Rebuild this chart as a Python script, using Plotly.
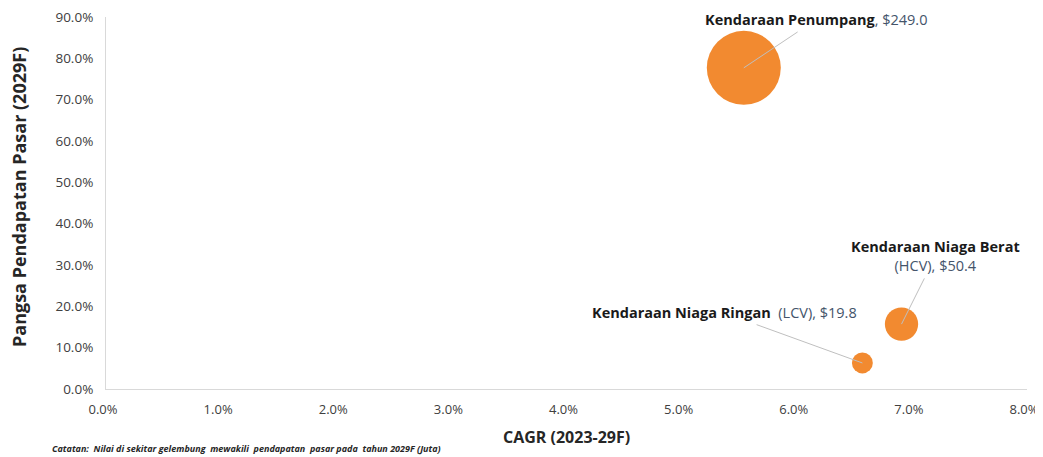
import plotly.graph_objects as go

segments = ["Kendaraan Penumpang", "Kendaraan Niaga Berat", "Kendaraan Niaga Ringan"]
codes = ["", "(HCV)", "(LCV)"]
cagr = [0.0554, 0.0691, 0.0657]
share = [0.777, 0.157, 0.063]
revenue = [249.0, 50.4, 19.8]

x_ticks = [0, 0.01, 0.02, 0.03, 0.04, 0.05, 0.06, 0.07, 0.08]
y_ticks = [0, 0.1, 0.2, 0.3, 0.4, 0.5, 0.6, 0.7, 0.8, 0.9]

ORANGE = '#F28A30'
VALUE_CLR = '#44546A'
FONT = 'Open Sans'

fig = go.Figure()
fig.add_trace(go.Scatter(
    x=cagr, y=share, mode='markers',
    marker=dict(size=revenue, sizemode='area', sizeref=2 * 249.0 / 74 ** 2,
                color=ORANGE, line=dict(width=0), opacity=1),
    hoverinfo='skip', showlegend=False,
))

# label offsets (pixels) from bubble centre, and how the code part is joined
offsets = [(72, -48), (34, -68), (-138, -50)]
joins = ["", "<br>", "  "]
for name, code, x, y, v, (ax, ay), j in zip(segments, codes, cagr, share, revenue, offsets, joins):
    tail = f"{code}, ${v:.1f}" if code else f", ${v:.1f}"
    fig.add_annotation(
        x=x, y=y, ax=ax, ay=ay,
        text=f"<b>{name}</b>{j}<span style='color:{VALUE_CLR}'>{tail}</span>",
        showarrow=True, arrowhead=0, arrowwidth=1, arrowcolor='#BFBFBF',
        standoff=0, startstandoff=2,
        font=dict(family=FONT, size=14.5, color='#1A1A1A'),
        align='center',
    )

# axis titles
fig.add_annotation(
    xref='paper', yref='paper', x=0.5, y=-0.13, xanchor='center', yanchor='middle',
    text='<b>CAGR (2023-29F)</b>', showarrow=False,
    font=dict(family=FONT, size=16, color='#262626'),
)
fig.add_annotation(
    xref='paper', yref='paper', x=-0.0945, y=0.516, xanchor='center', yanchor='middle',
    textangle=-90,
    text='<b>Pangsa Pendapatan Pasar (2029F)</b>', showarrow=False,
    font=dict(family=FONT, size=18, color='#262626'),
)

fig.add_annotation(
    xref='paper', yref='paper', x=-0.0608, y=-0.16, xanchor='left', yanchor='middle',
    text="<i><b>Catatan:  Nilai di sekitar gelembung  mewakili  pendapatan  pasar pada  tahun 2029F (Juta)</b></i>",
    showarrow=False, font=dict(family=FONT, size=9, color='#262626'),
)

# page body has an 8px margin, so the figure is sized to fit inside it
fig.update_layout(
    width=1035, height=449,
    margin=dict(l=98, r=16, t=9, b=68),
    paper_bgcolor='white', plot_bgcolor='white',
    font=dict(family=FONT, color='#404040'),
)
fig.update_xaxes(
    range=[0, 0.08], tickvals=x_ticks, tickformat='.1%', automargin=False,
    showgrid=False, zeroline=False, showline=True, linecolor='#D9D9D9', linewidth=1,
    tickfont=dict(size=13, color='#404040'), ticklabelstandoff=8, ticklabelshift=-3,
    ticklabeloverflow='allow',
)
fig.update_yaxes(
    range=[0, 0.9], tickvals=y_ticks, tickformat='.1%', automargin=False,
    showgrid=False, zeroline=False, showline=True, linecolor='#D9D9D9', linewidth=1,
    tickfont=dict(size=13.5, color='#404040'), ticklabelstandoff=9,
    ticklabeloverflow='allow',
)

fig.write_html("out.html")
